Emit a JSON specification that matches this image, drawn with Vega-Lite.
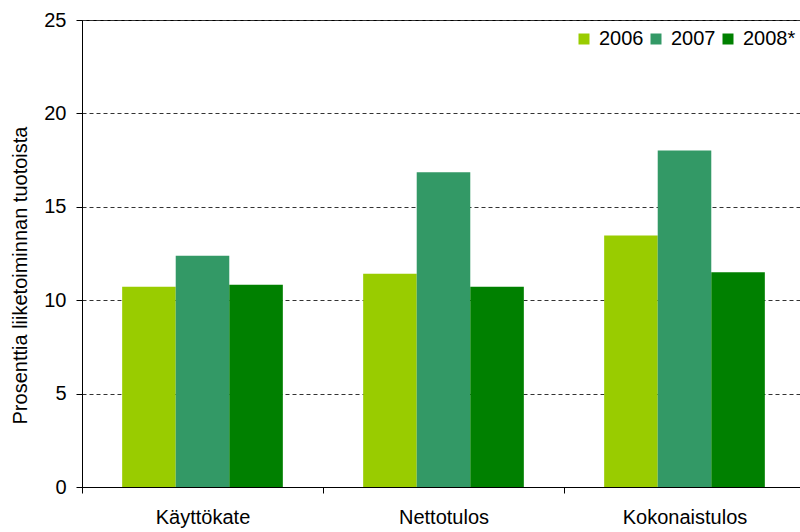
{
  "$schema": "https://vega.github.io/schema/vega-lite/v6.json",
  "autosize": "none",
  "padding": {"left": 82, "top": 20, "right": 0, "bottom": 45},
  "width": 723,
  "height": 467,
  "background": "white",
  "config": {
    "font": "Liberation Sans",
    "view": {"stroke": "#000000", "strokeWidth": 1}
  },
  "data": {
    "values": [
      {"mittari": "Käyttökate", "vuosi": "2006", "arvo": 10.72},
      {"mittari": "Käyttökate", "vuosi": "2007", "arvo": 12.38},
      {"mittari": "Käyttökate", "vuosi": "2008*", "arvo": 10.83},
      {"mittari": "Nettotulos", "vuosi": "2006", "arvo": 11.42},
      {"mittari": "Nettotulos", "vuosi": "2007", "arvo": 16.85},
      {"mittari": "Nettotulos", "vuosi": "2008*", "arvo": 10.72},
      {"mittari": "Kokonaistulos", "vuosi": "2006", "arvo": 13.47},
      {"mittari": "Kokonaistulos", "vuosi": "2007", "arvo": 18.02},
      {"mittari": "Kokonaistulos", "vuosi": "2008*", "arvo": 11.49}
    ]
  },
  "mark": {"type": "bar"},
  "encoding": {
    "x": {
      "field": "mittari",
      "type": "nominal",
      "sort": ["Käyttökate", "Nettotulos", "Kokonaistulos"],
      "scale": {"paddingInner": 0, "paddingOuter": 0},
      "axis": {
        "title": null,
        "labelAngle": 0,
        "labelFontSize": 20,
        "labelColor": "#000000",
        "labelPadding": 14,
        "tickBand": "extent",
        "tickSize": 6,
        "tickColor": "#000000",
        "domainColor": "#000000",
        "grid": false
      }
    },
    "xOffset": {
      "field": "vuosi",
      "type": "nominal",
      "scale": {"paddingInner": 0, "paddingOuter": 0.75}
    },
    "y": {
      "field": "arvo",
      "type": "quantitative",
      "scale": {"domain": [0, 25], "nice": false},
      "axis": {
        "title": "Prosenttia liiketoiminnan tuotoista",
        "titleFontSize": 20,
        "titleFontWeight": "normal",
        "titleColor": "#000000",
        "titleBaseline": "middle",
        "titleX": -62,
        "titleY": 255,
        "values": [0, 5, 10, 15, 20, 25],
        "labelFontSize": 20,
        "labelColor": "#000000",
        "labelPadding": 10,
        "tickSize": 6,
        "tickColor": "#000000",
        "domainColor": "#000000",
        "grid": true,
        "gridColor": "#333333",
        "gridDash": [4, 3],
        "gridWidth": 1
      }
    },
    "color": {
      "field": "vuosi",
      "type": "nominal",
      "scale": {
        "domain": ["2006", "2007", "2008*"],
        "range": ["#99CC00", "#339966", "#008000"]
      },
      "legend": {
        "title": null,
        "orient": "none",
        "direction": "horizontal",
        "gridAlign": "none",
        "legendX": 492,
        "legendY": 9,
        "padding": 0,
        "symbolType": "square",
        "symbolSize": 121,
        "symbolStrokeWidth": 0,
        "labelFontSize": 20,
        "labelColor": "#000000",
        "labelOffset": 5,
        "columnPadding": 2
      }
    }
  }
}
